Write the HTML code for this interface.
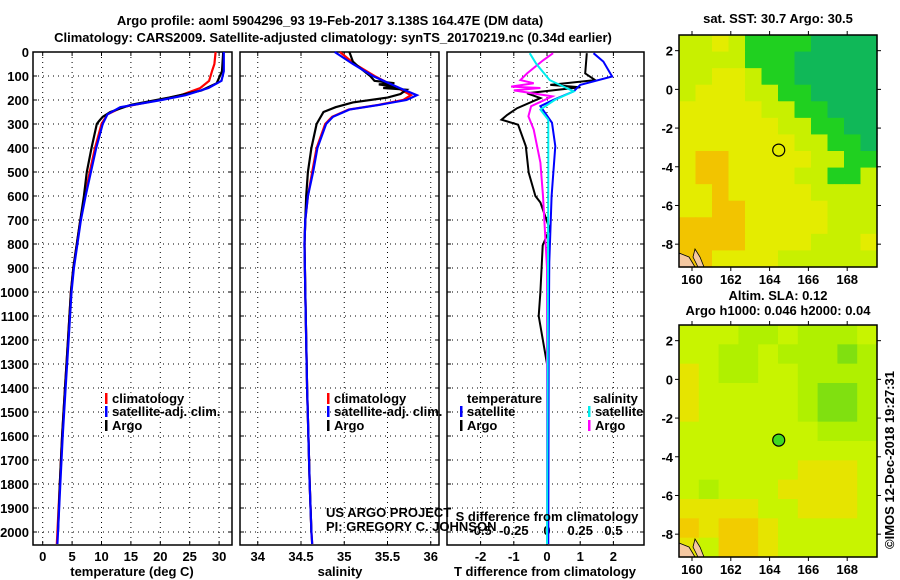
<!DOCTYPE html>
<html><head><meta charset="utf-8"><style>
body{margin:0;background:#fff;}
svg{display:block;font-family:"Liberation Sans",sans-serif;}
.b{font-weight:bold;font-size:13px;}
.g{stroke:#000;stroke-width:1;stroke-dasharray:1,4;}
</style></head><body>
<svg id="c" width="900" height="580" viewBox="0 0 900 580">
<rect width="900" height="580" fill="#fff"/>
<text x="330" y="25" text-anchor="middle" class="b" font-size="14">Argo profile: aoml 5904296_93 19-Feb-2017 3.138S 164.47E (DM data)</text>
<text x="333" y="42" text-anchor="middle" class="b" font-size="14">Climatology: CARS2009. Satellite-adjusted climatology: synTS_20170219.nc (0.34d earlier)</text>
<g id="p"></g>
</svg>
<script>
// ---- data ----
const depthTicks=[0,100,200,300,400,500,600,700,800,900,1000,1100,1200,1300,1400,1500,1600,1700,1800,1900,2000];
const tempTicks=[0,5,10,15,20,25,30];
const salTicks=[34,34.5,35,35.5,36];
const tdTicks=[-2,-1,0,1,2];
const sdTicks=[-0.5,-0.25,0,0.25,0.5];
const sdTickLabels=["-0.5","-0.25","0","0.25","0.5"];
const tDepth=[0,50,80,120,150,180,200,230,260,300,400,500,600,700,800,900,1000,1200,1400,1600,1800,2000,2050];
const tClim=[29.4,29.2,28.8,28.3,26.8,23.5,19.8,13.5,11,10,8.9,8.0,7.2,6.4,5.8,5.2,4.8,4.3,3.8,3.3,2.9,2.5,2.4];
const tSat=[30.8,30.8,30.8,30.4,28.2,24.3,20.2,13.2,11,10.2,9.1,8.2,7.3,6.5,5.9,5.3,4.9,4.4,3.9,3.4,3.0,2.6,2.5];
const aDepth=[0,80,130,160,190,220,250,270,290,300,400,500,600,700,800,900,1000,1200,1400,1600,1800,2000];
const tArgo=[30.7,30.5,29.6,27,21.5,15,11.5,10.2,9.5,9.2,8.3,7.5,7.0,6.4,5.8,5.2,4.8,4.3,3.8,3.3,2.9,2.6];
const sDepth=[0,50,100,150,180,200,220,240,270,300,400,500,600,700,800,1000,1400,1800,2000,2050];
const sClim=[34.95,35.12,35.35,35.62,35.77,35.68,35.4,35.05,34.86,34.78,34.68,34.63,34.58,34.55,34.54,34.55,34.57,34.6,34.62,34.63];
const sSat=[34.89,35.1,35.33,35.64,35.84,35.72,35.41,35.06,34.87,34.79,34.69,34.64,34.58,34.55,34.54,34.55,34.57,34.6,34.62,34.63];
const sArgoD=[0,40,60,100,120,130,135,145,150,157,175,190,210,230,250,300,400,500,600,700,800,1000,1400,1800,2000];
const sArgo=[35.06,35.1,35.16,35.3,35.35,35.58,35.4,35.6,35.45,35.72,35.65,35.5,35.1,34.9,34.76,34.68,34.62,34.58,34.56,34.55,34.54,34.55,34.57,34.6,34.62];
const dD=[5,40,102,137,164,199,226,295,392,600,875,1200,2050];
const dTSat=[1.4,1.7,1.96,1.0,0.8,0.2,-0.2,0.15,0.25,0.14,0.07,0.05,0.04];
const dDA=[5,89,117,137,147,172,192,234,262,282,303,392,503,600,627,738,806,1000,1100,1300,2050];
const dTArgo=[1.2,1.15,1.45,0.1,1.0,-0.6,-0.2,-0.9,-1.2,-1.37,-0.87,-0.64,-0.55,-0.35,-0.2,0.08,-0.13,-0.2,-0.25,0.0,0.0];
const dDS=[5,35,89,117,130,144,150,160,185,226,268,323,461,600,900,2050];
const dSArgo=[0.046,-0.03,-0.15,-0.2,-0.1,-0.27,-0.05,-0.25,0.04,-0.12,-0.14,-0.1,-0.05,-0.03,0.0,0.0];
const dDC=[5,50,117,164,199,240,282,500,2050];
const dSSat=[-0.13,-0.08,0.02,0.2,0.06,-0.05,0.01,0.01,0.0];
const lonTicks=[160,162,164,166,168];
const latTicks=[2,0,-2,-4,-6,-8];
const sstGrid=[
"221233334444","222233344444","221123344444","211122334444","111112233444","111111223344",
"111111122334","100111112233","100111122332","110111112222","110011111222","000011111222",
"000011112221","001111222222"];
const slaGrid=[
"2223323332","2233233343","1233223333","1222223443","1222223443","2222222333",
"2222222222","2222221112","2322211112","1111221112","0100122222","1200122222"];
const floatLon=164.47, floatLat=-3.138;

// ---- helpers ----
const NS="http://www.w3.org/2000/svg";
const P=document.getElementById('p');
function mk(t,a,par){const e=document.createElementNS(NS,t);for(const k in a)e.setAttribute(k,a[k]);(par||P).appendChild(e);return e;}
function txt(x,y,s,anchor,cls){const e=mk('text',{x:x,y:y,'text-anchor':anchor||'middle','class':cls||'b'});e.textContent=s;return e;}
const Y=d=>52+d*0.24;
const PT=545;
function panel(x0,x1,name){
  const g=mk('g',{});
  
  
  depthTicks.forEach(d=>{mk('line',{x1:x0,x2:x1,y1:Y(d),y2:Y(d),'class':'g'},g);
    mk('line',{x1:x0,x2:x0+4,y1:Y(d),y2:Y(d),stroke:'#000'},g);mk('line',{x1:x1-4,x2:x1,y1:Y(d),y2:Y(d),stroke:'#000'},g);});
  mk('rect',{x:x0,y:52,width:x1-x0,height:PT-52,fill:'none',stroke:'#000','stroke-width':1.5},g);
  return g;
}
function vline(g,fx,x0,x1,grid){
  grid.forEach(v=>{mk('line',{x1:fx(v),x2:fx(v),y1:52,y2:PT,'class':'g'},g);
   mk('line',{x1:fx(v),x2:fx(v),y1:PT-4,y2:PT,stroke:'#000'},g);mk('line',{x1:fx(v),x2:fx(v),y1:52,y2:56,stroke:'#000'},g);});
}
function series(g,fx,vals,depths,col,name,w){
  const pts=vals.map((v,i)=>fx(v).toFixed(1)+','+Y(depths[i]).toFixed(1)).join(' ');
  const e=mk('polyline',{points:pts,fill:'none',stroke:col,'stroke-width':w||2.2},g);
  
  
}
function legend(g,x,y,col,label){
  mk('rect',{x:x,y:y-10,width:2.5,height:11,fill:col},g);
  const t=txt(x+7,y,label,'start');g.appendChild(t);
}

// panel 1 temperature
const fT=v=>42.7+v*5.88;
const g1=panel(33,232,'temperature-panel');
vline(g1,fT,33,232,tempTicks);
depthTicks.forEach(d=>{const t=txt(29,Y(d)+5,String(d),'end');g1.appendChild(t);});
tempTicks.forEach(v=>{const t=txt(fT(v),561,String(v));g1.appendChild(t);});
const xl1=txt(132,576,'temperature (deg C)');
series(g1,fT,tClim,tDepth,'#f00','temp-climatology-line');
series(g1,fT,tArgo,aDepth,'#000','temp-argo-line');
series(g1,fT,tSat,tDepth,'#00f','temp-satellite-line');
legend(g1,105,403,'#f00','climatology');
legend(g1,105,416,'#00f','satellite-adj. clim.');
legend(g1,105,430,'#000','Argo');

// panel 2 salinity
const fS=v=>301+(v-34.5)*86.5;
const g2=panel(240,439,'salinity-panel');
vline(g2,fS,240,439,salTicks);
salTicks.forEach(v=>{const t=txt(fS(v),561,String(v));g2.appendChild(t);});
txt(340,576,'salinity');
series(g2,fS,sClim,sDepth,'#f00','sal-climatology-line');
series(g2,fS,sArgo,sArgoD,'#000','sal-argo-line');
series(g2,fS,sSat,sDepth,'#00f','sal-satellite-line');
legend(g2,327,403,'#f00','climatology');
legend(g2,327,416,'#00f','satellite-adj. clim.');
legend(g2,327,430,'#000','Argo');
const u1=txt(326,517,'US ARGO PROJECT','start','');u1.setAttribute('font-size','13');
const u2=txt(326,531,'PI: GREGORY C. JOHNSON','start','');u2.setAttribute('font-size','13');

// panel 3 differences
const fD=v=>547+v*33.2;
const fSD=v=>547+v*132.8;
const g3=panel(447,644,'difference-panel');
vline(g3,fD,447,644,tdTicks);
tdTicks.forEach(v=>{const t=txt(fD(v),561,String(v));g3.appendChild(t);});
sdTicks.forEach((v,i)=>{const t=txt(fSD(v),535,sdTickLabels[i]);g3.appendChild(t);});
txt(547,521,'S difference from climatology');
txt(545,576,'T difference from climatology');
series(g3,fD,dTArgo,dDA,'#000','tdiff-argo-line',2);
series(g3,fD,dTSat,dD,'#00f','tdiff-satellite-line',2);
series(g3,fSD,dSArgo,dDS,'#f0f','sdiff-argo-line',2);
series(g3,fSD,dSSat,dDC,'#0ee','sdiff-satellite-line',2);
txt(467,403,'temperature','start');
legend(g3,460,416,'#00f','satellite');
legend(g3,460,430,'#000','Argo');
txt(593,403,'salinity','start');
legend(g3,588,416,'#0ee','satellite');
legend(g3,588,430,'#f0f','Argo');

// maps
function map(top,grid,cols,name,title1,title2,filled){
  const g=mk('g',{});
  
  
  const x0=679,x1=877,h=232;
  const fx=l=>x0+(l-159.33)*19.4, fy=la=>top+(2.81-la)*19.35;
  const nr=grid.length,nc=grid[0].length,cw=(x1-x0)/nc,ch=h/nr;
  grid.forEach((row,r)=>{for(let c=0;c<nc;c++){
    const cell=mk('rect',{x:x0+c*cw,y:top+r*ch,width:cw+0.6,height:ch+0.6,fill:cols[+row[c]]},g);
    
    
  }});
  mk('path',{d:`M${x0} ${top+h-14} l10 4 l6 10 l-16 0 Z M${x0+16} ${top+h-18} l5 8 l4 10 l-6 0 l-5 -10 Z`,fill:'#f5c8a0',stroke:'#000','stroke-width':0.8},g);
  mk('rect',{x:x0,y:top,width:x1-x0,height:h,fill:'none',stroke:'#000','stroke-width':1.5},g);
  lonTicks.forEach(l=>{mk('line',{x1:fx(l),x2:fx(l),y1:top+h,y2:top+h+4,stroke:'#000'},g);mk('line',{x1:fx(l),x2:fx(l),y1:top-4,y2:top,stroke:'#000'},g);
    const t=txt(fx(l),top+h+17,String(l));g.appendChild(t);});
  latTicks.forEach(la=>{mk('line',{x1:x0-4,x2:x0,y1:fy(la),y2:fy(la),stroke:'#000'},g);mk('line',{x1:x1,x2:x1+4,y1:fy(la),y2:fy(la),stroke:'#000'},g);
    const t=txt(673,fy(la)+5,String(la),'end');g.appendChild(t);});
  const m=mk('circle',{cx:fx(floatLon),cy:fy(floatLat),r:6,fill:filled?'#40d820':'none',stroke:'#000','stroke-width':1.2},g);
  
  
  const t1=txt(778,top-(title2?25:12),title1);g.appendChild(t1);
  if(title2){const t2=txt(778,top-10,title2);g.appendChild(t2);}
}
map(35,sstGrid,['#f2c400','#e4ec00','#c8f000','#20d020','#10b858'],'sst-map','sat. SST: 30.7 Argo: 30.5');
map(325,slaGrid,['#f2cc00','#e6e400','#c8f400','#b0f000','#80e010'],'sla-map','Altim. SLA: 0.12','Argo h1000: 0.046 h2000: 0.04',true);
const st=txt(894,460,'©IMOS 12-Dec-2018 19:27:31','middle','');
st.setAttribute('font-size','13');st.setAttribute('transform','rotate(-90 894 460)');


</script>
</body></html>
